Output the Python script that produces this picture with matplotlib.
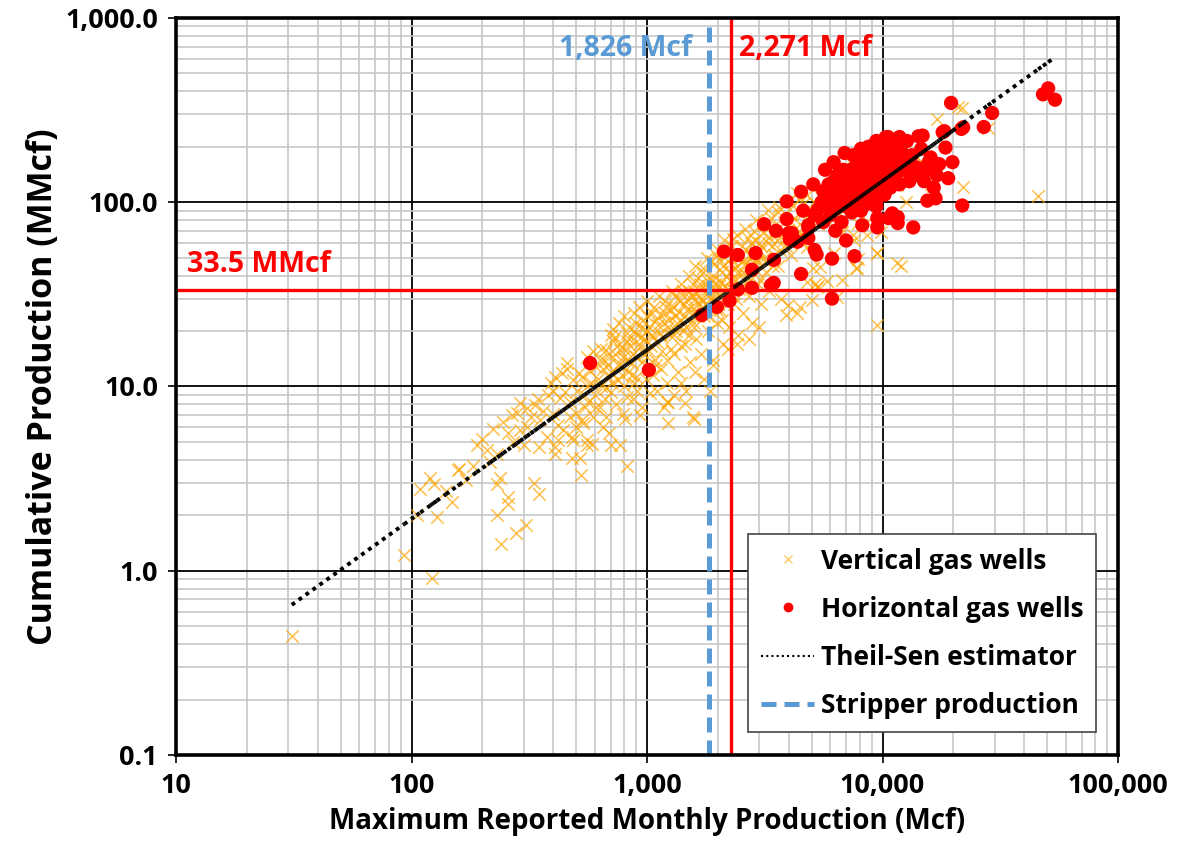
import numpy as np
import matplotlib
matplotlib.use('Agg')
import matplotlib.pyplot as plt
from matplotlib.collections import LineCollection
from matplotlib.lines import Line2D

plt.rcParams['font.family'] = ['Open Sans', 'DejaVu Sans']
plt.rcParams['font.weight'] = 'bold'

# (max monthly production Mcf, cumulative production MMcf)
vertical_wells = [
    (31, 0.44), (93, 1.22), (122, 0.91), (109, 2.78), (120, 3.2), (124, 2.95), (149, 2.36), (128, 1.96),
    (157, 3.5), (159, 3.56), (183, 3.7), (189, 4.8), (200, 5.2), (222, 5.9), (231, 4.3), (231, 2.95),
    (237, 3.2), (256, 2.5), (256, 2.3), (231, 2.0), (278, 1.6), (305, 1.77), (240, 1.4), (331, 3.0),
    (347, 2.6), (245, 6.4), (267, 7.0), (281, 7.2), (256, 5.6), (289, 5.8), (309, 6.0), (289, 8.1),
    (309, 7.6), (344, 8.6), (334, 7.9), (352, 6.6), (377, 5.3), (347, 4.7), (408, 4.7), (408, 4.3),
    (420, 5.1), (398, 7.1), (398, 9.5), (408, 11.3), (435, 11.9), (457, 12.4), (470, 8.2), (480, 5.3),
    (485, 5.1), (480, 4.1), (520, 4.1), (525, 3.3), (530, 6.6), (535, 6.3), (556, 5.1), (556, 4.8),
    (585, 4.9), (545, 7.7), (590, 6.8), (610, 7.7), (505, 9.5), (556, 10), (457, 13.4), (556, 14.5),
    (530, 11.3), (485, 10.9), (390, 10.5), (427, 8.7), (630, 14), (650, 12.4), (670, 15.7), (720, 17.7),
    (690, 11.3), (670, 9.8), (700, 9.3), (630, 7.7), (670, 6.8), (650, 6.0), (690, 5.6), (700, 4.8),
    (770, 4.8), (820, 3.7), (790, 7.1), (810, 6.7), (870, 8.5), (930, 7.0), (950, 7.7), (820, 8.8),
    (770, 15.7), (820, 17.7), (860, 13.4), (900, 11.3), (930, 16.3), (1060, 18.6), (910, 9.5),
    (1227, 6.3), (1227, 8.2), (1180, 7.7), (1210, 8.2), (1590, 6.7), (1850, 9.5), (1470, 9.5),
    (1030, 9.2), (1450, 8.1), (1570, 6.8),
    (720, 20.5), (760, 22), (800, 24), (840, 21), (880, 25), (920, 27), (960, 23), (1000, 29),
    (750, 13), (790, 14.5), (830, 12), (870, 15), (910, 19), (950, 13.5), (990, 11), (1020, 21),
    (1050, 25), (1080, 14), (1100, 17.5), (1120, 31), (1150, 12.5), (1180, 22), (1200, 27), (1220, 10.5),
    (1250, 19), (1280, 33), (1300, 15), (1320, 24), (1350, 12), (1380, 29), (1400, 36), (1420, 20),
    (1450, 17), (1480, 26), (1500, 40), (1520, 13.5), (1550, 31), (1580, 22), (1600, 45), (1620, 18),
    (1650, 28), (1680, 36), (1700, 15), (1720, 42), (1750, 24), (1780, 33), (1800, 50), (1820, 20),
    (1850, 27), (1880, 38), (1900, 14), (1920, 46), (1950, 30), (1980, 22), (2000, 55), (2020, 35),
    (2050, 26), (2080, 42), (2100, 17), (2130, 62), (2160, 31), (2200, 48), (2230, 21), (2260, 38),
    (2300, 58), (2330, 28), (2360, 44), (2400, 66), (2430, 19), (2460, 34), (2500, 52), (2550, 25),
    (2600, 72), (2650, 40), (2700, 31), (2750, 60), (2800, 22), (2850, 47), (2900, 80), (2950, 36),
    (3000, 55), (3050, 28), (3100, 68), (3200, 42), (3250, 91), (3300, 33), (3400, 58), (3500, 75),
    (3600, 45), (3650, 94), (3700, 30), (3800, 62), (3900, 24.4), (4000, 103), (4100, 52), (4200, 82),
    (4350, 25), (4400, 70), (4450, 27), (4600, 98), (4800, 37), (5000, 29.5), (5250, 34.5), (5300, 35),
    (5450, 44.7), (5800, 37.6), (6200, 53), (6400, 30.5), (6750, 38), (7500, 66), (7800, 44), (7900, 49),
    (8600, 66), (9500, 53), (3950, 27.8), (4350, 112), (4800, 57), (5090, 44), (5170, 36), (6750, 69),
    (8590, 78), (9850, 69), (7580, 62), (7870, 77), (7710, 44), (9480, 53), (9420, 99), (11540, 124),
    (12600, 100), (7280, 165), (11540, 46.8), (12000, 45), (17060, 283), (21800, 325), (21000, 330),
    (28000, 253), (45800, 108), (16060, 126), (16300, 122), (21900, 121), (9480, 21.6),
    (600, 9), (620, 11), (640, 16), (660, 8.5), (680, 13), (700, 19), (710, 10.5), (730, 15),
    (740, 8), (760, 17), (780, 11.5), (800, 10), (820, 19.5), (850, 16.5), (880, 10.5), (900, 22),
    (940, 18.5), (970, 15), (1000, 20), (1010, 13), (1040, 16.5), (1060, 11.5), (1090, 23), (1130, 19.5),
    (1160, 15.5), (1190, 25), (1230, 21), (1260, 16), (1290, 27), (1330, 20), (1360, 30), (1400, 23),
    (1440, 28), (1470, 21), (1510, 33), (1560, 25), (1600, 30), (1640, 24), (1690, 34), (1730, 29),
    (1770, 26), (1810, 35), (1870, 30), (1910, 40), (1960, 33), (2010, 28), (2060, 37), (2110, 45),
    (2170, 40), (2220, 33), (2280, 50), (2350, 38), (2420, 45), (2490, 40), (2560, 48), (2640, 55),
    (2720, 45), (2800, 52), (2880, 62), (2960, 48), (3060, 58), (3150, 50), (3300, 65), (3450, 52),
    (3550, 62), (3750, 70), (3900, 58), (4100, 78), (4300, 62), (4500, 85), (4700, 72), (5000, 88),
    (5300, 76), (5600, 95), (5900, 85), (6300, 105), (6600, 95), (7000, 120), (7400, 110), (8000, 130),
    (8500, 115), (9000, 140), (9800, 125), (10500, 150), (11000, 135), (12000, 160), (13000, 145),
    (14000, 175), (15000, 160), (1400, 10.5), (1600, 12), (1750, 11), (1900, 13), (2200, 16),
    (2400, 17), (2700, 18), (3000, 21), (1300, 9), (1100, 9.5),
    # denser core of the vertical-well cloud
    (560, 8.2), (580, 10.5), (610, 12.8), (640, 10), (660, 13.8), (690, 15), (700, 12), (730, 18.5),
    (750, 10.8), (770, 13.2), (800, 16), (820, 14), (840, 18), (860, 11.5), (880, 20), (900, 14.5),
    (920, 17), (950, 21), (980, 18), (1000, 24), (1020, 15.5), (1050, 19), (1070, 27), (1090, 13),
    (1110, 21.5), (1140, 24.5), (1160, 18.5), (1190, 29), (1210, 14), (1240, 23), (1270, 26), (1300, 19),
    (1310, 31), (1340, 22), (1370, 25.5), (1390, 16.5), (1420, 33), (1450, 24), (1480, 30), (1500, 19),
    (1530, 27), (1560, 36), (1590, 21), (1620, 32), (1650, 39), (1670, 25), (1700, 30), (1730, 44),
    (1760, 28), (1790, 38), (1820, 24), (1850, 33), (1880, 48), (1900, 29), (1940, 36), (1970, 52),
    (1990, 26), (2030, 31), (2070, 48), (2090, 23), (2140, 35), (2180, 53), (2200, 28), (2250, 42),
    (2290, 34), (2320, 63), (2380, 30), (2410, 50), (2450, 42), (2520, 58), (2540, 35), (2600, 46),
    (2680, 64), (2730, 38), (2780, 50), (2840, 70), (2900, 43), (2980, 60), (3020, 38), (3120, 75),
    (3180, 48), (3250, 60), (3350, 82), (3420, 45), (3480, 68), (3600, 88), (3680, 55), (3800, 78),
    (3850, 98), (4000, 65), (4150, 95), (4250, 72), (4450, 105), (4550, 60), (4800, 110), (4900, 80),
    (5100, 100), (5400, 108), (5700, 82), (6000, 115), (6500, 75), (6900, 92),
    (420, 6.2), (450, 9.3), (470, 6.8), (500, 7.2), (515, 11.8), (540, 9), (570, 12.2), (590, 15.5),
    (360, 7.4), (380, 9.0), (320, 6.8), (300, 4.8), (270, 5.0), (210, 4.5), (440, 5.8), (500, 6.0),
    (105, 2.0), (140, 2.7), (170, 3.1), (215, 3.9),
]

horizontal_wells = [
    (573, 13.4), (1018, 12.3), (1710, 24.4), (1980, 27), (2240, 29.2), (2430, 33.6), (2790, 34.3),
    (2790, 43), (3360, 35.5), (3450, 36.5), (2890, 53), (2430, 51.7), (2120, 54), (3460, 48.7),
    (3140, 76), (3530, 70), (4040, 63), (4000, 68), (4350, 61), (4840, 64), (3920, 81), (4510, 40.8),
    (6100, 49.4), (6100, 30), (4600, 90), (3920, 101), (4510, 114), (5080, 125), (4120, 68),
    (4840, 75), (5200, 87), (5150, 55), (5250, 52), (6530, 141), (7600, 51), (7800, 163), (8900, 163),
    (19540, 346), (48000, 385), (50500, 415), (54000, 360), (29200, 305), (26900, 256), (21600, 250),
    (22000, 255), (18300, 243), (19800, 165), (17400, 161), (15700, 165), (19000, 135), (21800, 96),
    (16800, 105), (15500, 102), (13500, 73),
    (10550, 226), (11800, 226), (10000, 192), (11700, 200), (14800, 230), (14200, 228), (18000, 240),
    (18500, 198), (14000, 154), (13200, 146), (7970, 165), (6450, 141), (7280, 141), (5300, 91),
    (4840, 73), (5150, 85), (9500, 82), (9500, 73), (10600, 82), (11600, 83), (11600, 77),
    (11000, 87), (9450, 103),
    (5500, 100), (5600, 115), (5800, 95), (5900, 125), (6000, 85), (6100, 108), (6200, 130), (6300, 92),
    (6400, 118), (6500, 100), (6600, 135), (6700, 78), (6800, 112), (6900, 145), (7000, 95), (7100, 125),
    (7200, 105), (7300, 150), (7400, 88), (7500, 118), (7600, 135), (7700, 100), (7800, 160), (7900, 112),
    (8000, 128), (8100, 90), (8200, 145), (8300, 108), (8400, 120), (8500, 170), (8600, 98), (8700, 135),
    (8800, 115), (8900, 150), (9000, 105), (9100, 180), (9200, 125), (9300, 140), (9400, 95), (9600, 160),
    (9700, 115), (9800, 130), (9900, 200), (10000, 150), (10200, 110), (10300, 170), (10400, 135),
    (10600, 185), (10800, 120), (11000, 155), (11200, 210), (11400, 140), (11600, 170), (11800, 125),
    (12000, 190), (12300, 150), (12600, 165), (13000, 130), (13300, 180), (13700, 155), (14200, 140),
    (14600, 195), (15000, 130), (15500, 150), (16000, 175), (16500, 120), (17000, 140), (5600, 78),
    (6300, 70), (7000, 62), (8200, 75), (6900, 185), (8100, 195), (9400, 215), (10300, 225),
    (12700, 215), (6200, 165), (5700, 150), (6800, 150), (7500, 180), (8700, 200), (9000, 190),
]

# Theil-Sen fit in log-log space: passes through (2,271 Mcf, 33.5 MMcf)
ts_slope = 0.917
ts_x0, ts_y0 = 2271, 33.5
stripper_mcf = 1826
median_mcf = 2271
median_mmcf = 33.5

x_ticks = [10, 100, 1000, 10000, 100000]
x_labels = ['10', '100', '1,000', '10,000', '100,000']
y_ticks = [0.1, 1, 10, 100, 1000]
y_labels = ['0.1', '1.0', '10.0', '100.0', '1,000.0']

vx, vy = zip(*vertical_wells)
hx, hy = zip(*horizontal_wells)

fig = plt.figure(figsize=(11.83, 8.6), dpi=100)
ax = fig.add_axes([0.1488, 0.1221, 0.7963, 0.857])
ax.set_xscale('log')
ax.set_yscale('log')
ax.set_xlim(10, 100000)
ax.set_ylim(0.1, 1000)

ax.grid(True, which='minor', color='#c8c8c8', lw=1.2, zorder=0)
ax.grid(True, which='major', color='black', lw=1.3, zorder=0.5)
ax.set_axisbelow(True)

ax.scatter(vx, vy, marker='x', s=80, color='#FFA500', lw=1.1, alpha=0.7, zorder=2)
ax.scatter(hx, hy, marker='o', s=105, color='#FF0000', edgecolors='none', zorder=3)

# estimator evaluated at each well, drawn as short dotted segments
all_x = np.unique(np.array(list(vx) + list(hx), dtype=float))
ts_y = ts_y0 * (all_x / ts_x0) ** ts_slope
pts = np.column_stack([all_x, ts_y])
segs = [pts[i:i + 2] for i in range(len(pts) - 1)]
ax.add_collection(LineCollection(segs, colors='black', linewidths=2.8, linestyles=(0, (1, 1.2)), zorder=4))

ax.axvline(median_mcf, color='#FF0000', lw=2.4, zorder=5)
ax.axhline(median_mmcf, color='#FF0000', lw=2.4, zorder=5)
ax.axvline(stripper_mcf, color='#5B9BD5', lw=3.6, ls=(0, (3, 1.6)), zorder=5)

ax.annotate('1,826 Mcf', (stripper_mcf, 1000), xytext=(-12, -22), textcoords='offset points',
            ha='right', va='center', color='#5B9BD5', fontsize=20.5, fontweight='bold')
ax.annotate('2,271 Mcf', (median_mcf, 1000), xytext=(6, -22), textcoords='offset points',
            ha='left', va='center', color='#FF0000', fontsize=20.5, fontweight='bold')
ax.annotate('33.5 MMcf', (10, median_mmcf), xytext=(8, 18), textcoords='offset points',
            ha='left', va='center', color='#FF0000', fontsize=20.5, fontweight='bold')

ax.set_xticks(x_ticks)
ax.set_xticklabels(x_labels)
ax.set_yticks(y_ticks)
ax.set_yticklabels(y_labels)
ax.tick_params(which='major', direction='out', length=6, width=1.2, labelsize=19.5, pad=7)
ax.tick_params(which='minor', length=0)
for lab in ax.get_xticklabels() + ax.get_yticklabels():
    lab.set_fontweight('bold')

ax.set_xlabel('Maximum Reported Monthly Production (Mcf)', fontsize=20, fontweight='bold', labelpad=6)
ax.set_ylabel('Cumulative Production (MMcf)', fontsize=24.5, fontweight='bold', labelpad=4)

for sp in ax.spines.values():
    sp.set_linewidth(2.6)
    sp.set_zorder(6)

handles = [
    Line2D([], [], marker='x', color='#FFA500', lw=0, ms=6, mew=1.0, alpha=0.6),
    Line2D([], [], marker='o', color='#FF0000', lw=0, ms=6),
    Line2D([], [], color='black', lw=1.5, ls=(0, (1, 1.5))),
    Line2D([], [], color='#5B9BD5', lw=3.6, ls=(0, (3, 1.6))),
]
labels = ['Vertical gas wells', 'Horizontal gas wells', 'Theil-Sen estimator', 'Stripper production']
leg = ax.legend(handles, labels, loc='lower right', bbox_to_anchor=(0.977, 0.031), borderaxespad=0,
                prop={'weight': 'bold', 'size': 19}, frameon=True, fancybox=False, framealpha=1,
                edgecolor='#444444', handlelength=2.0, handletextpad=0.25, labelspacing=0.8,
                borderpad=0.5)
leg.get_frame().set_linewidth(1.2)
leg.set_zorder(7)

fig.savefig('out.png', dpi=100)
